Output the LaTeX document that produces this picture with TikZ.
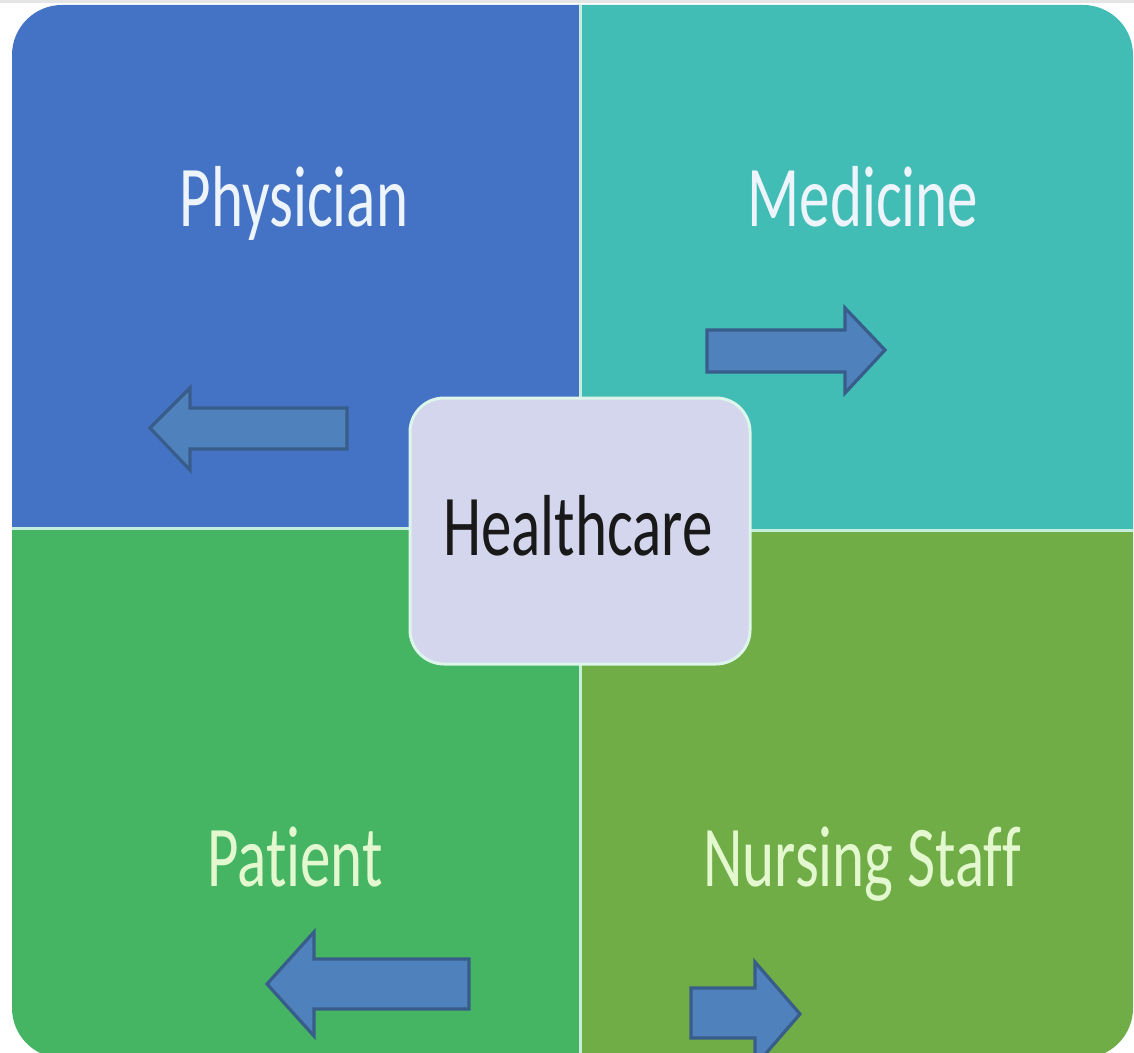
\documentclass[tikz,border=0pt]{standalone}
\usepackage{fontspec}
\usepackage{graphicx}
\setmainfont{Carlito}[Ligatures={NoCommon,NoContextual}]
\definecolor{qblue}{HTML}{4472C4}
\definecolor{qteal}{HTML}{41BDB6}
\definecolor{qgreen}{HTML}{45B563}
\definecolor{qolive}{HTML}{70AD47}
\definecolor{arrfill}{HTML}{4F81BD}
\definecolor{arrdraw}{HTML}{385D8A}
\definecolor{centfill}{HTML}{D3D6EC}
\definecolor{divline}{HTML}{C6EEDC}
\definecolor{toptext}{HTML}{EEF4FC}
\definecolor{bottext}{HTML}{E4F8D0}
\newcommand{\tallt}[1]{\scalebox{1}[1.42]{#1}}
\tikzset{
  blockarrow/.style={fill=arrfill, draw=arrdraw, line width=1.6pt, line join=miter},
  qlabel/.style={font=\fontsize{30.5}{31}\selectfont, anchor=base, inner sep=0pt},
}
\begin{document}
\begin{tikzpicture}[x=0.5pt,y=-0.5pt]
\useasboundingbox (0,0) rectangle (1134,1053);
\fill[white] (0,0) rectangle (1134,1053);
\fill[gray!20] (0,0) rectangle (1134,3);
\begin{scope}
  \clip[rounded corners=25pt] (12,5) rectangle (1133,1058);
  \fill[qblue] (0,0) rectangle (580,528);
  \fill[qteal] (580,0) rectangle (1134,530);
  \fill[qgreen] (0,528) rectangle (580,1060);
  \fill[qolive] (580,530) rectangle (1134,1060);
  \draw[divline, line width=1.5pt] (580,0) -- (580,1060);
  \draw[divline, line width=1.5pt] (0,528) -- (580,528);
  \draw[divline, line width=1.5pt] (580,530) -- (1134,530);
\end{scope}
% labels
\node[qlabel, text=toptext] (phys) at (294,227) {\tallt{Physician}};
\node[qlabel, text=toptext] (med) at (863,227) {\tallt{Medicine}};
\node[qlabel, text=bottext] (pat) at (295,886) {\tallt{Patient}};
\node[qlabel, text=bottext] (nurs) at (862,886) {\tallt{Nursing Staff}};
% center box
\node[draw=divline!60!white, line width=1.5pt, fill=centfill, rounded corners=17pt,
      minimum width=170pt, minimum height=133pt, inner sep=0pt] (hc) at (580,531) {};
\node[qlabel, text=black!90] (hctext) at (578,555) {\tallt{Healthcare}};
% arrows
\draw[blockarrow] (347,408) -- (190,408) -- (190,388) -- (150,428) -- (190,470) -- (190,449) -- (347,449) -- cycle;
\draw[blockarrow] (707,330) -- (845,330) -- (845,308) -- (885,350) -- (845,393) -- (845,372) -- (707,372) -- cycle;
\draw[blockarrow] (469,959) -- (314,959) -- (314,932) -- (267,984) -- (314,1036) -- (314,1009) -- (469,1009) -- cycle;
\draw[blockarrow] (691,988) -- (755,988) -- (755,962) -- (800,1014) -- (755,1066) -- (755,1038) -- (691,1038) -- cycle;
\end{tikzpicture}
\end{document}
